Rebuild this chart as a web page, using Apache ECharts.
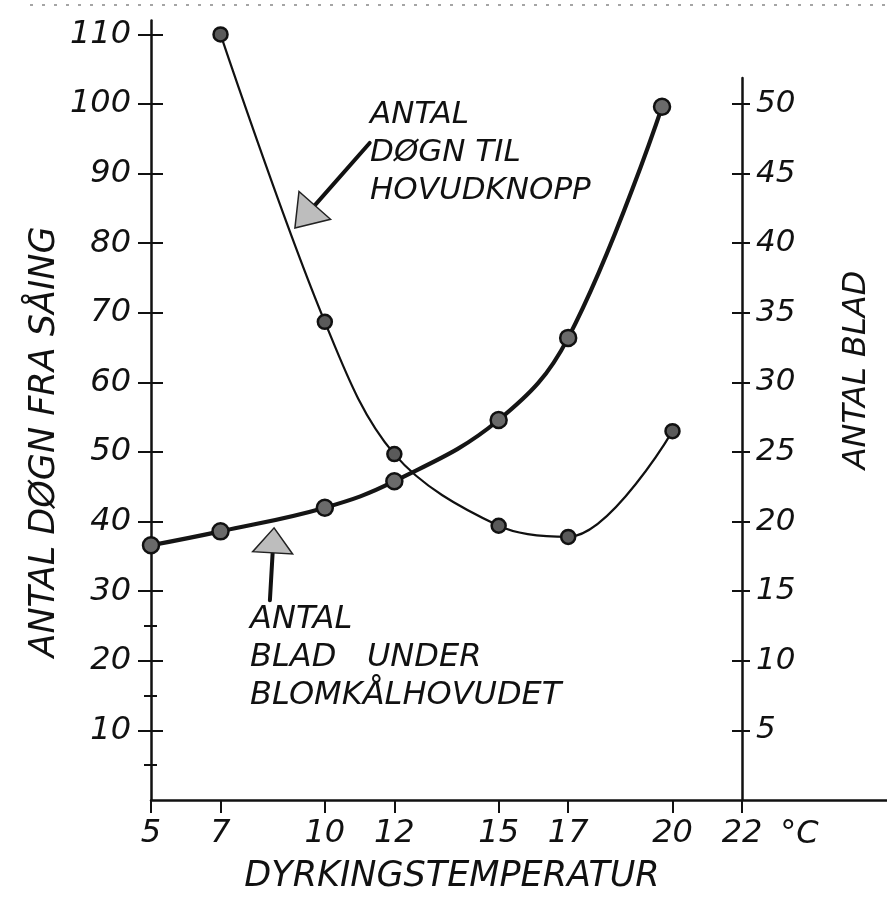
<!DOCTYPE html>
<html><head><meta charset="utf-8">
<script src="https://cdn.jsdelivr.net/npm/echarts@6/dist/echarts.min.js"></script>
<style>html,body{margin:0;padding:0;background:#fff}#c{width:887px;height:919px}</style>
</head><body><div id="c"></div>
<script>
// ---- data ----
const daysTemps   = [7, 10, 12, 15, 17, 20];
const daysValues  = [110, 68.7, 49.7, 39.4, 37.8, 53.0];
const leafTemps   = [5, 7, 10, 12, 15, 17, 19.7];
const leafValues  = [18.3, 19.3, 21.0, 22.9, 27.3, 33.2, 49.8];
const xTicks      = [5, 7, 10, 12, 15, 17, 20, 22];
const leftTicks   = [10, 20, 30, 40, 50, 60, 70, 80, 90, 100, 110];
const leftMinor   = [5, 15, 25];
const rightTicks  = [5, 10, 15, 20, 25, 30, 35, 40, 45, 50];

const leftTitle  = 'ANTAL DØGN FRA SÅING';
const rightTitle = 'ANTAL BLAD';
const xTitle     = 'DYRKINGSTEMPERATUR';
const note1 = 'ANTAL\nDØGN TIL\nHOVUDKNOPP';
const note2 = 'ANTAL\nBLAD   UNDER\nBLOMKÅLHOVUDET';

const FONT = 'DejaVu Sans';
const INK = '#111';
const txt = {fontFamily: FONT, fontStyle: 'italic', color: INK};

const chart = echarts.init(document.getElementById('c'));

const X_MAX_FULL = 26.17;
const yOff = (extra) => Object.assign({
  gridIndex: 0, type: 'value', min: 0, max: 112, position: 'left',
  axisLine: {show: false}, splitLine: {show: false},
  axisLabel: {show: false}
}, extra);

chart.setOption({
  animation: false,
  backgroundColor: '#fff',
  grid: [
    {left: 151, right: 0, top: 20.5, bottom: 119},
    {left: 151, right: 145, top: 78, bottom: 119}
  ],
  xAxis: [
    {gridIndex: 0, type: 'value', min: 5, max: X_MAX_FULL,
     axisLine: {lineStyle: {color: INK, width: 2.5}},
     axisTick: {customValues: xTicks, length: 13, lineStyle: {color: INK, width: 2}},
     axisLabel: Object.assign({customValues: xTicks, fontSize: 32, margin: 18}, txt),
     splitLine: {show: false}},
    {gridIndex: 1, type: 'value', min: 5, max: 22, show: false}
  ],
  yAxis: [
    yOff({axisLine: {show: true, onZero: false, lineStyle: {color: INK, width: 2.5}},
          axisTick: {customValues: leftTicks, length: 13, lineStyle: {color: INK, width: 2}},
          axisLabel: Object.assign({show: true, customValues: leftTicks, fontSize: 32, margin: 20}, txt)}),
    yOff({axisTick: {customValues: leftTicks, inside: true, length: 12, lineStyle: {color: INK, width: 2}}}),
    yOff({axisTick: {customValues: leftMinor, length: 7, lineStyle: {color: INK, width: 2}}}),
    yOff({axisTick: {customValues: leftMinor, inside: true, length: 6, lineStyle: {color: INK, width: 2}}}),
    {gridIndex: 1, type: 'value', min: 0, max: 51.87, position: 'right',
     axisLine: {show: true, onZero: false, lineStyle: {color: INK, width: 2.5}},
     axisTick: {customValues: rightTicks, length: 8, lineStyle: {color: INK, width: 2}},
     axisLabel: Object.assign({customValues: rightTicks, fontSize: 31, margin: 14}, txt),
     splitLine: {show: false}},
    {gridIndex: 1, type: 'value', min: 0, max: 51.87, position: 'right',
     axisLine: {show: false}, splitLine: {show: false}, axisLabel: {show: false},
     axisTick: {customValues: rightTicks, inside: true, length: 10, lineStyle: {color: INK, width: 2}}}
  ],
  series: [
    {name: 'days', type: 'line', xAxisIndex: 0, yAxisIndex: 0, smooth: 0.35,
     data: daysTemps.map((t, i) => [t, daysValues[i]]),
     symbol: 'circle', symbolSize: 14,
     lineStyle: {color: INK, width: 2.2},
     itemStyle: {color: '#5a5a5a', borderColor: '#111', borderWidth: 2.5}},
    {name: 'leaves', type: 'line', xAxisIndex: 1, yAxisIndex: 4, smooth: 0.4,
     data: leafTemps.map((t, i) => [t, leafValues[i]]),
     symbol: 'circle', symbolSize: 16,
     lineStyle: {color: '#151515', width: 4.2},
     itemStyle: {color: '#6a6a6a', borderColor: '#111', borderWidth: 2.5}}
  ]
});

// ---- annotations placed through the axes' own scales ----
const P = (x, y) => chart.convertToPixel({xAxisIndex: 0, yAxisIndex: 0}, [x, y]);
function arrow(tail, tip, headLen, headHalf) {
  const [x1, y1] = P(tail[0], tail[1]);
  const [x2, y2] = P(tip[0], tip[1]);
  const dx = x2 - x1, dy = y2 - y1, L = Math.hypot(dx, dy);
  const ux = dx / L, uy = dy / L, nx = -uy, ny = ux;
  const bx = x2 - ux * headLen, by = y2 - uy * headLen;
  return [
    {type: 'line', shape: {x1, y1, x2: bx, y2: by}, style: {stroke: INK, lineWidth: 4, lineCap: 'round'}},
    {type: 'polygon', shape: {points: [[x2, y2], [bx + nx * headHalf, by + ny * headHalf], [bx - nx * headHalf, by - ny * headHalf]]},
     style: {fill: '#bdbdbd', stroke: '#222', lineWidth: 1.5}}
  ];
}
function label(text, x, y, size, opts) {
  return Object.assign({type: 'text', x, y,
    style: {text, fill: INK, fontFamily: FONT, fontStyle: 'italic', fontSize: size,
            align: 'center', verticalAlign: 'middle'}}, opts || {});
}
const n1 = P(11.3, 101.2), n2 = P(7.85, 28.6), deg = P(23.1, -5.0);
const gfx = [
  {type: 'line', shape: {x1: 30, y1: 5, x2: 887, y2: 5}, style: {stroke: '#888', lineWidth: 1.5, lineDash: [3, 9]}},
  label(leftTitle, 45, 442, 35, {rotation: Math.PI / 2}),
  label(rightTitle, 857, 370, 32, {rotation: Math.PI / 2}),
  label(xTitle, 452, 877, 35),
  {type: 'text', x: deg[0], y: deg[1], style: {text: '°C', fill: INK, fontFamily: FONT, fontStyle: 'italic', fontSize: 32, align: 'left', verticalAlign: 'middle'}},
  {type: 'text', x: n1[0], y: n1[1], style: {text: note1, fill: INK, fontFamily: FONT, fontStyle: 'italic', fontSize: 31, lineHeight: 38, align: 'left', verticalAlign: 'top'}},
  {type: 'text', x: n2[0], y: n2[1], style: {text: note2, fill: INK, fontFamily: FONT, fontStyle: 'italic', fontSize: 32, lineHeight: 38, align: 'left', verticalAlign: 'top'}}
].concat(arrow([11.29, 94.4], [9.14, 82.2], 30, 21))
 .concat(arrow([8.42, 28.7], [8.54, 39.1], 25, 20));
chart.setOption({graphic: gfx});
</script>
</body></html>
